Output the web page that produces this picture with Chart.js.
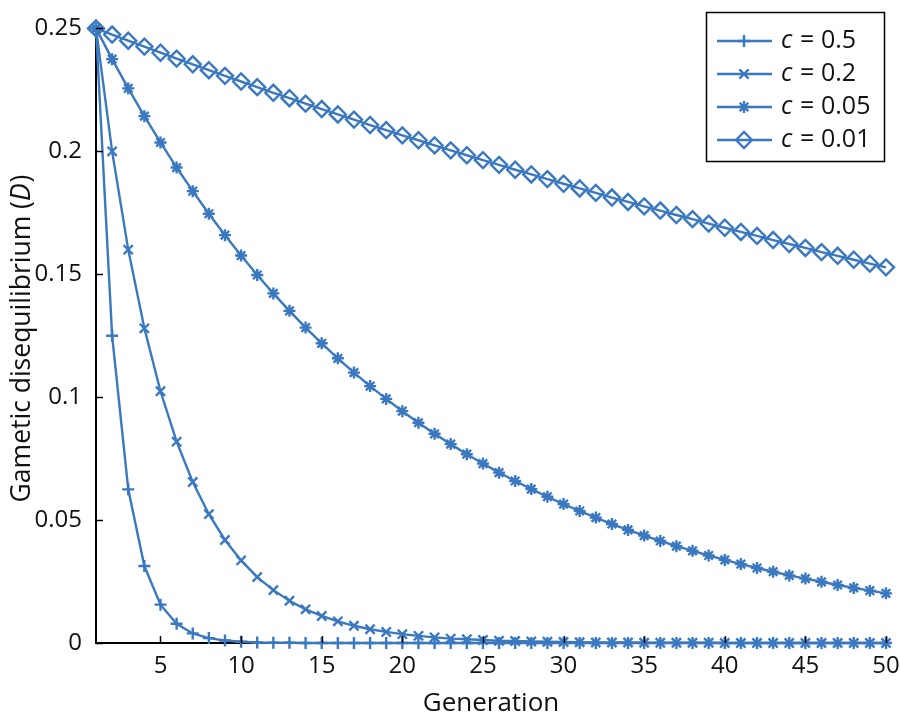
<!DOCTYPE html>
<html>
<head>
<meta charset="utf-8">
<script src="https://cdn.jsdelivr.net/npm/chart.js@4"></script>
<style>
  html, body { margin: 0; padding: 0; background: #ffffff; }
  #wrap { width: 900px; height: 721px; }
</style>
</head>
<body>
<div id="wrap"><canvas id="c" width="900" height="721"></canvas></div>
<script>
// ---- Data ----
const generations = [1,2,3,4,5,6,7,8,9,10,11,12,13,14,15,16,17,18,19,20,21,22,23,24,25,26,27,28,29,30,31,32,33,34,35,36,37,38,39,40,41,42,43,44,45,46,47,48,49,50];

const seriesLabels = ["0.5", "0.2", "0.05", "0.01"];

const d_c050 = [0.25,0.125,0.0625,0.0313,0.0156,0.0078,0.0039,0.0020,0.0010,0.0005,0.0002,0.0001,0.0001,0,0,0,0,0,0,0,0,0,0,0,0,0,0,0,0,0,0,0,0,0,0,0,0,0,0,0,0,0,0,0,0,0,0,0,0,0];

const d_c020 = [0.25,0.2,0.16,0.128,0.1024,0.0819,0.0655,0.0524,0.0419,0.0336,0.0268,0.0215,0.0172,0.0137,0.0110,0.0088,0.0070,0.0056,0.0045,0.0036,0.0029,0.0023,0.0018,0.0015,0.0012,0.0009,0.0008,0.0006,0.0005,0.0004,0.0003,0.0002,0.0002,0.0002,0.0001,0.0001,0.0001,0.0001,0.0001,0,0,0,0,0,0,0,0,0,0,0];

const d_c005 = [0.25,0.2375,0.2256,0.2143,0.2036,0.1934,0.1838,0.1746,0.1659,0.1576,0.1497,0.1422,0.1351,0.1283,0.1219,0.1158,0.1100,0.1045,0.0993,0.0943,0.0896,0.0851,0.0809,0.0768,0.0730,0.0693,0.0659,0.0626,0.0595,0.0565,0.0537,0.0510,0.0484,0.0460,0.0437,0.0415,0.0394,0.0375,0.0356,0.0338,0.0321,0.0305,0.0290,0.0275,0.0262,0.0249,0.0236,0.0224,0.0213,0.0202];

const d_c001 = [0.25,0.2475,0.2450,0.2426,0.2401,0.2377,0.2354,0.2330,0.2307,0.2284,0.2261,0.2238,0.2216,0.2194,0.2172,0.2150,0.2129,0.2107,0.2086,0.2065,0.2045,0.2024,0.2004,0.1984,0.1964,0.1945,0.1925,0.1906,0.1887,0.1868,0.1849,0.1831,0.1812,0.1794,0.1776,0.1759,0.1741,0.1724,0.1706,0.1689,0.1672,0.1656,0.1639,0.1623,0.1607,0.1590,0.1575,0.1559,0.1543,0.1528];

const xTicks = [5,10,15,20,25,30,35,40,45,50];
const yTicks = [0,0.05,0.1,0.15,0.2,0.25];
const yTickLabels = ["0","0.05","0.1","0.15","0.2","0.25"];
const xTitle = "Generation";
const yTitleMain = "Gametic disequilibrium (";
const yTitleItalic = "D";
const yTitleEnd = ")";

// ---- Styling ----
const BLUE = "#3a78c0";
const FONT = "'Open Sans', 'DejaVu Sans', sans-serif";
const markerStyles = ["cross", "crossRot", "star", "rectRot"];
const markerRadius = [6, 6.5, 6, 8];
const seriesData = [d_c050, d_c020, d_c005, d_c001];

function toPoints(arr) { return arr.map((v, i) => ({ x: generations[i], y: v })); }

const datasets = seriesData.map((arr, i) => ({
  label: "c = " + seriesLabels[i],
  data: toPoints(arr),
  borderColor: BLUE,
  borderWidth: 2.4,
  pointStyle: markerStyles[i],
  pointRadius: markerRadius[i],
  pointHoverRadius: markerRadius[i],
  pointBorderColor: BLUE,
  pointBackgroundColor: "rgba(0,0,0,0)",
  pointBorderWidth: 2.4,
  tension: 0,
  fill: false,
  clip: false
}));

function drawMarker(ctx, style, x, y, r) {
  if (Chart.helpers && Chart.helpers.drawPoint) {
    Chart.helpers.drawPoint(ctx, { pointStyle: style, radius: r, rotation: 0, borderWidth: 2.4 }, x, y);
    return;
  }
  ctx.beginPath();
  if (style === "cross" || style === "star") {
    ctx.moveTo(x - r, y); ctx.lineTo(x + r, y);
    ctx.moveTo(x, y - r); ctx.lineTo(x, y + r);
  }
  if (style === "crossRot" || style === "star") {
    const d = r * Math.SQRT1_2;
    ctx.moveTo(x - d, y - d); ctx.lineTo(x + d, y + d);
    ctx.moveTo(x - d, y + d); ctx.lineTo(x + d, y - d);
  }
  if (style === "rectRot") {
    ctx.moveTo(x, y - r); ctx.lineTo(x + r, y); ctx.lineTo(x, y + r); ctx.lineTo(x - r, y); ctx.closePath();
  }
  ctx.stroke();
}

// Inward tick marks, custom y title with italic D, and legend box
const decorPlugin = {
  id: "decor",
  afterDraw(chart) {
    const ctx = chart.ctx;
    const xs = chart.scales.x, ys = chart.scales.y;
    const area = chart.chartArea;
    ctx.save();
    ctx.strokeStyle = "#000";
    ctx.lineWidth = 1.5;
    ctx.beginPath();
    xTicks.forEach(v => {
      const px = Math.round(xs.getPixelForValue(v)) + 0.5;
      ctx.moveTo(px, area.bottom); ctx.lineTo(px, area.bottom - 7);
    });
    yTicks.forEach(v => {
      const py = Math.round(ys.getPixelForValue(v)) + 0.5;
      ctx.moveTo(area.left, py); ctx.lineTo(area.left + 7, py);
    });
    ctx.stroke();

    // y title
    ctx.fillStyle = "#111";
    ctx.textBaseline = "middle";
    const normalFont = "26.5px " + FONT;
    const italicFont = "italic 26.5px " + FONT;
    ctx.font = normalFont;
    const w1 = ctx.measureText(yTitleMain).width;
    const w3 = ctx.measureText(yTitleEnd).width;
    ctx.font = italicFont;
    const w2 = ctx.measureText(yTitleItalic).width;
    const total = w1 + w2 + w3;
    ctx.translate(22, 339);
    ctx.rotate(-Math.PI / 2);
    ctx.textAlign = "left";
    let cx = -total / 2;
    ctx.font = normalFont; ctx.fillText(yTitleMain, cx, 0); cx += w1;
    ctx.font = italicFont; ctx.fillText(yTitleItalic, cx, 0); cx += w2 + 1;
    ctx.font = normalFont; ctx.fillText(yTitleEnd, cx, 0);
    ctx.setTransform(1, 0, 0, 1, 0, 0);

    // legend
    const legFont = "25px " + FONT;
    const legItalic = "italic 25px " + FONT;
    ctx.fillStyle = "#fff";
    ctx.fillRect(706, 12, 179, 150);
    ctx.strokeStyle = "#000";
    ctx.lineWidth = 1.5;
    ctx.strokeRect(706.5, 12.5, 178, 149);
    const rowY = [41, 74, 107, 140];
    seriesLabels.forEach((lab, i) => {
      const y = rowY[i];
      ctx.strokeStyle = BLUE;
      ctx.lineWidth = 2.4;
      ctx.beginPath(); ctx.moveTo(717, y); ctx.lineTo(772, y); ctx.stroke();
      ctx.fillStyle = "rgba(0,0,0,0)";
      drawMarker(ctx, markerStyles[i], 744, y, markerRadius[i]);
      ctx.fillStyle = "#111";
      ctx.textAlign = "left";
      ctx.textBaseline = "middle";
      ctx.font = legItalic;
      ctx.fillText("c", 781, y);
      ctx.font = legFont;
      ctx.fillText("=", 800, y);
      ctx.fillText(lab, 821, y);
    });
    ctx.restore();
  }
};

new Chart(document.getElementById("c"), {
  type: "line",
  data: { datasets },
  options: {
    responsive: false,
    animation: false,
    events: [],
    layout: { padding: { left: 0, right: 2, top: 17, bottom: 0 } },
    plugins: { legend: { display: false }, tooltip: { enabled: false } },
    scales: {
      x: {
        type: "linear",
        min: 1,
        max: 50,
        afterBuildTicks(s) { s.ticks = xTicks.map(v => ({ value: v })); },
        afterFit(s) { s.height = 78; s.paddingRight = 14; },
        grid: { display: false, drawTicks: false },
        border: { display: true, color: "#000", width: 2 },
        ticks: {
          color: "#111",
          font: { family: FONT, size: 24 },
          padding: 9,
          maxRotation: 0,
          autoSkip: false
        },
        title: {
          display: true,
          text: xTitle,
          color: "#111",
          font: { family: FONT, size: 26 },
          padding: { top: 0, bottom: 2 }
        }
      },
      y: {
        type: "linear",
        min: 0,
        max: 0.25,
        afterBuildTicks(s) { s.ticks = yTicks.map(v => ({ value: v })); },
        afterFit(s) { s.width = 96; },
        grid: { display: false, drawTicks: false },
        border: { display: true, color: "#000", width: 2 },
        ticks: {
          color: "#111",
          font: { family: FONT, size: 24 },
          padding: 14,
          autoSkip: false,
          callback(v) { const i = yTicks.indexOf(v); return i >= 0 ? yTickLabels[i] : ""; }
        }
      }
    }
  },
  plugins: [decorPlugin]
});
</script>
</body>
</html>
